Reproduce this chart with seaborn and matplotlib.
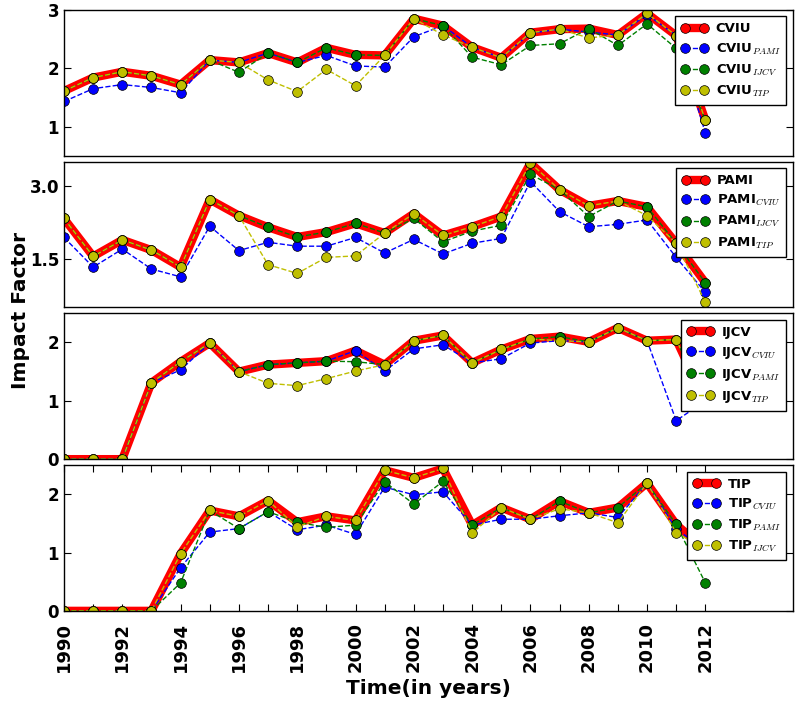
import seaborn as sns
import matplotlib.pyplot as plt
from matplotlib.ticker import FixedLocator

years = list(range(1990, 2013))

# CVIU panel
cviu = [1.61, 1.84, 1.94, 1.87, 1.72, 2.14, 2.10, 2.26, 2.10, 2.35, 2.23, 2.22, 2.85, 2.73, 2.36, 2.18, 2.61, 2.67, 2.68, 2.57, 2.94, 2.56, 1.11]
cviu_pami = [1.43, 1.65, 1.72, 1.67, 1.58, 2.14, 2.10, 2.26, 2.10, 2.22, 2.04, 2.02, 2.54, 2.73, 2.36, 2.18, 2.60, 2.67, 2.62, 2.57, 2.92, 2.56, 0.89]
cviu_ijcv = [1.61, 1.84, 1.94, 1.87, 1.72, 2.14, 1.93, 2.26, 2.10, 2.35, 2.23, 2.22, 2.85, 2.73, 2.19, 2.06, 2.39, 2.42, 2.68, 2.39, 2.76, 2.34, 1.11]
cviu_tip = [1.61, 1.84, 1.94, 1.87, 1.72, 2.14, 2.10, 1.80, 1.60, 1.98, 1.70, 2.22, 2.85, 2.57, 2.36, 2.18, 2.61, 2.67, 2.52, 2.57, 2.94, 2.56, 1.11]

# PAMI panel
pami = [2.33, 1.55, 1.89, 1.68, 1.33, 2.72, 2.39, 2.15, 1.95, 2.05, 2.23, 2.03, 2.43, 1.98, 2.16, 2.37, 3.47, 2.92, 2.59, 2.69, 2.57, 1.82, 1.01]
pami_cviu = [1.94, 1.33, 1.70, 1.29, 1.13, 2.17, 1.67, 1.84, 1.76, 1.76, 1.94, 1.62, 1.90, 1.60, 1.82, 1.92, 3.09, 2.47, 2.16, 2.21, 2.30, 1.53, 0.81]
pami_ijcv = [2.33, 1.55, 1.89, 1.68, 1.33, 2.72, 2.39, 2.15, 1.95, 2.05, 2.23, 2.03, 2.33, 1.85, 2.07, 2.19, 3.24, 2.92, 2.37, 2.69, 2.57, 1.82, 1.01]
pami_tip = [2.33, 1.55, 1.89, 1.68, 1.33, 2.72, 2.39, 1.38, 1.20, 1.53, 1.56, 2.03, 2.43, 1.98, 2.16, 2.37, 3.47, 2.92, 2.59, 2.69, 2.39, 1.82, 0.61]

# IJCV panel
ijcv = [0, 0, 0, 1.31, 1.67, 1.99, 1.50, 1.62, 1.65, 1.68, 1.86, 1.62, 2.03, 2.12, 1.65, 1.88, 2.06, 2.10, 2.01, 2.25, 2.03, 2.05, 0.97]
ijcv_cviu = [0, 0, 0, 1.31, 1.53, 1.99, 1.50, 1.62, 1.65, 1.68, 1.86, 1.51, 1.89, 1.96, 1.65, 1.72, 1.99, 2.03, 2.01, 2.25, 2.03, 0.66, 1.00]
ijcv_pami = [0, 0, 0, 1.31, 1.67, 1.99, 1.50, 1.62, 1.65, 1.68, 1.67, 1.62, 2.03, 2.12, 1.65, 1.88, 2.06, 2.10, 2.01, 2.25, 2.03, 2.05, 0.97]
ijcv_tip = [0, 0, 0, 1.31, 1.67, 1.99, 1.50, 1.30, 1.26, 1.38, 1.51, 1.62, 2.03, 2.12, 1.65, 1.88, 2.06, 2.03, 2.01, 2.25, 2.03, 2.05, 0.97]

# TIP panel
tip = [0, 0, 0, 0, 0.98, 1.72, 1.62, 1.89, 1.52, 1.62, 1.55, 2.41, 2.28, 2.44, 1.47, 1.77, 1.57, 1.88, 1.68, 1.77, 2.19, 1.48, 1.05]
tip_cviu = [0, 0, 0, 0, 0.74, 1.35, 1.41, 1.70, 1.39, 1.47, 1.31, 2.12, 1.99, 2.04, 1.47, 1.57, 1.57, 1.63, 1.68, 1.60, 2.19, 1.40, 1.05]
tip_pami = [0, 0, 0, 0, 0.48, 1.72, 1.41, 1.70, 1.52, 1.43, 1.47, 2.21, 1.83, 2.22, 1.47, 1.77, 1.57, 1.88, 1.68, 1.77, 2.19, 1.48, 0.48]
tip_ijcv = [0, 0, 0, 0, 0.98, 1.72, 1.62, 1.89, 1.44, 1.62, 1.55, 2.41, 2.28, 2.44, 1.33, 1.77, 1.57, 1.75, 1.68, 1.51, 2.19, 1.34, 1.05]

panels = [
    ("CVIU", cviu, [("PAMI", cviu_pami), ("IJCV", cviu_ijcv), ("TIP", cviu_tip)], (0.5, 3.0), [1, 2, 3]),
    ("PAMI", pami, [("CVIU", pami_cviu), ("IJCV", pami_ijcv), ("TIP", pami_tip)], (0.5, 3.5), [1.5, 3.0]),
    ("IJCV", ijcv, [("CVIU", ijcv_cviu), ("PAMI", ijcv_pami), ("TIP", ijcv_tip)], (0.0, 2.5), [0, 1, 2]),
    ("TIP", tip, [("CVIU", tip_cviu), ("PAMI", tip_pami), ("IJCV", tip_ijcv)], (0.0, 2.5), [0, 1, 2]),
]
colors = ['b', 'g', 'y']

sns.set_style('white')
plt.rcParams['font.family'] = ['DejaVu Sans']
plt.rcParams['font.weight'] = 'bold'
plt.rcParams['mathtext.fontset'] = 'cm'
plt.rcParams['axes.linewidth'] = 1.0
plt.rcParams['axes.edgecolor'] = 'black'
plt.rcParams['text.color'] = 'black'
plt.rcParams['axes.labelcolor'] = 'black'
plt.rcParams['xtick.color'] = 'black'
plt.rcParams['ytick.color'] = 'black'

fig, axes = plt.subplots(4, 1, figsize=(8, 7.07), dpi=100, sharex=True)
fig.subplots_adjust(left=0.08, right=0.991, top=0.986, bottom=0.136, hspace=0.04)

for i, (name, main, others, ylim, yt) in enumerate(panels):
    ax = axes[i]
    # main series: thick red line
    sns.lineplot(x=years, y=main, ax=ax, color='r', lw=6, marker='o', ms=7,
                 mfc='r', mec='k', mew=0.5, label=name)
    for (sub, vals), c in zip(others, colors):
        sns.lineplot(x=years, y=vals, ax=ax, color=c, lw=1, ls='--', marker='o', ms=7,
                     mfc=c, mec='k', mew=0.5, label=name + '$_{' + sub + '}$')
    ax.set_xlim(1990, 2015)
    ax.set_ylim(*ylim)
    ax.set_yticks(yt)
    if i == 1:
        ax.set_yticklabels(['1.5', '3.0'])
    ax.tick_params(axis='y', direction='in', left=True, right=True, length=5,
                   labelsize=12)
    for lbl in ax.get_yticklabels():
        lbl.set_fontweight('bold')
    if i < 3:
        ax.tick_params(axis='x', bottom=False, top=False, labelbottom=False)
    leg = ax.legend(loc='upper right', numpoints=2, handlelength=2.0,
                    prop={'weight': 'bold', 'size': 9.5}, fancybox=False, edgecolor='k',
                    framealpha=1, borderpad=0.45, labelspacing=0.45, handletextpad=0.6)
    leg.get_frame().set_linewidth(1.0)

ax = axes[3]
ax.xaxis.set_major_locator(FixedLocator(years))
ax.set_xticklabels([str(y) if y % 2 == 0 else '' for y in years], rotation=90,
                   fontsize=13, fontweight='bold')
ax.tick_params(axis='x', direction='in', bottom=True, top=True, length=5, pad=8)
ax.set_xlabel("Time(in years)", fontsize=14.5, fontweight='bold', labelpad=5)
fig.text(0.026, 1 - 310 / 707, "Impact Factor", rotation=90, ha='center', va='center',
         fontsize=14.5, fontweight='bold')

plt.savefig("out.png", dpi=100)
